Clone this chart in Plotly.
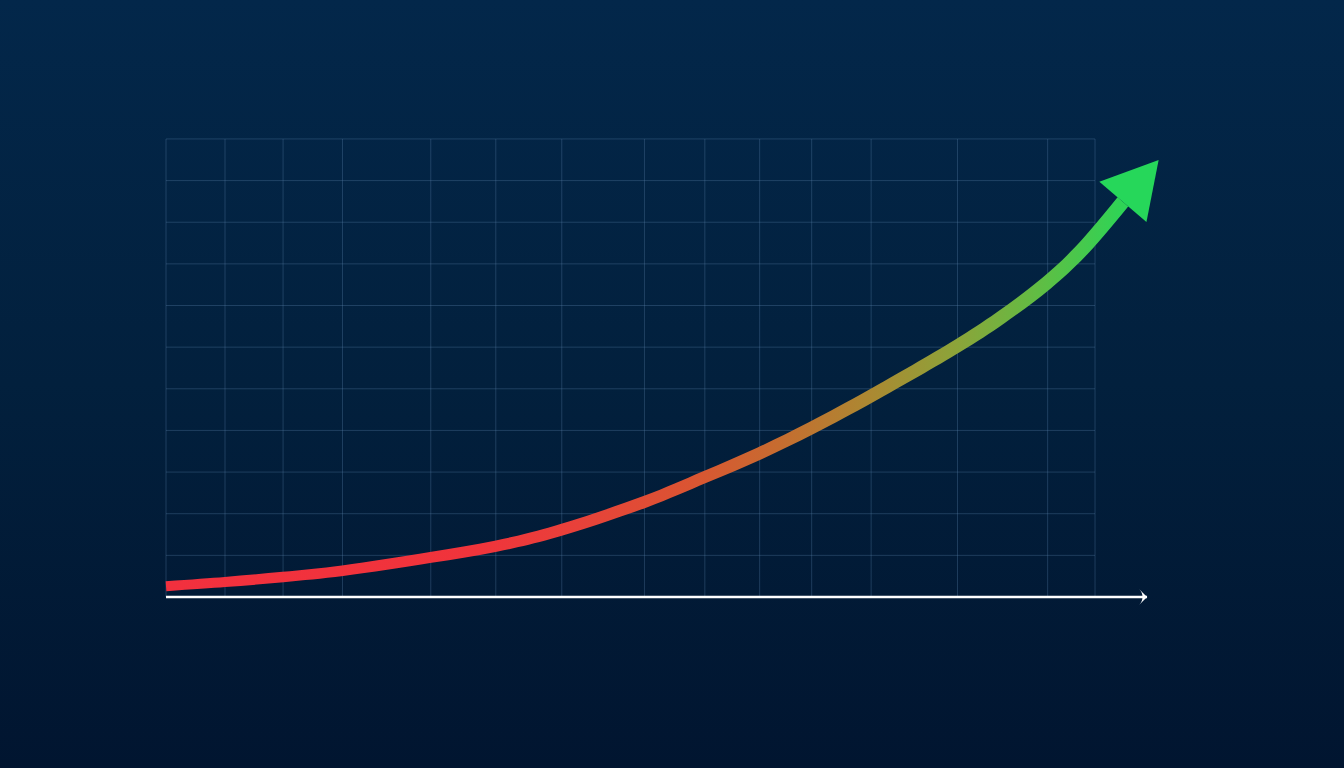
import math
import plotly.graph_objects as go

# ---------------- data ----------------
# grid line positions (x in "time" units, y in value units)
grid_x = [0, 6.35, 12.6, 19.0, 28.5, 35.5, 42.6, 51.5, 58.0, 63.9, 69.5, 75.9, 85.2, 94.9, 100]
grid_y = [10, 20, 30, 40, 50, 60, 70, 80, 90, 100, 110]

# growth curve
curve_x = [0, 6.35, 12.6, 19.0, 28.5, 35.5, 41.3, 51.6, 58.0, 63.9, 69.5, 75.9, 85.2, 89.8, 94.8, 98.4, 103.0]
curve_y = [2.6, 3.6, 4.8, 6.3, 9.5, 12.2, 15.3, 22.9, 28.8, 34.5, 40.6, 48.3, 60.3, 67.0, 75.4, 82.9, 94.9]

axis_end_x = 105.6

# ---------------- layout / style ----------------
W, H = 1344, 768
X_RANGE = [-17.87, 126.8]
Y_RANGE = [-41.07, 143.37]
SX = W / (X_RANGE[1] - X_RANGE[0])   # px per x unit
SY = H / (Y_RANGE[1] - Y_RANGE[0])   # px per y unit

GRID_COLOR = "rgba(90,130,170,0.33)"
BG_SCALE = [[0, "#011530"], [0.5, "#02203d"], [1, "#03274a"]]
CURVE_SCALE = [
    [0.0, "#f2303e"], [0.33, "#f0343b"], [0.43, "#e8413a"], [0.55, "#da5532"],
    [0.64, "#c66c30"], [0.74, "#aa8a32"], [0.83, "#8aa53a"], [0.92, "#5cbf45"],
    [1.0, "#2ed456"],
]
HEAD_COLOR = "#26d75a"
HW_START, HW_END = 5.0, 7.0          # band half width in px
HEAD_LEN, HEAD_HALF = 55, 31         # arrow head size in px

fig = go.Figure()

# background gradient
fig.add_trace(go.Scatter(
    x=[X_RANGE[0], X_RANGE[1], X_RANGE[1], X_RANGE[0], X_RANGE[0]],
    y=[Y_RANGE[0], Y_RANGE[0], Y_RANGE[1], Y_RANGE[1], Y_RANGE[0]],
    mode="none", fill="toself",
    fillgradient=dict(type="vertical", colorscale=BG_SCALE, start=Y_RANGE[0], stop=Y_RANGE[1]),
    hoverinfo="skip", showlegend=False,
))

# grid
gx, gy = [], []
for x in grid_x:
    gx += [x, x, None]
    gy += [0, grid_y[-1], None]
for y in grid_y:
    gx += [grid_x[0], grid_x[-1], None]
    gy += [y, y, None]
fig.add_trace(go.Scatter(x=gx, y=gy, mode="lines", line=dict(color=GRID_COLOR, width=1),
                         hoverinfo="skip", showlegend=False))

# x axis with arrow
fig.add_trace(go.Scatter(x=[0, axis_end_x], y=[0, 0], mode="lines",
                         line=dict(color="white", width=2.5), hoverinfo="skip", showlegend=False))
fig.add_trace(go.Scatter(x=[axis_end_x], y=[0], mode="markers",
                         marker=dict(symbol="arrow-wide", angle=90, size=11, color="white"),
                         cliponaxis=False, hoverinfo="skip", showlegend=False))

# gradient band for the curve (edges offset along pixel-space normals)
n = len(curve_x)
px = [x * SX for x in curve_x]
py = [y * SY for y in curve_y]
upper_x, upper_y, lower_x, lower_y = [], [], [], []
normals = []
for i in range(n):
    a = max(i - 1, 0)
    b = min(i + 1, n - 1)
    dx, dy = px[b] - px[a], py[b] - py[a]
    L = math.hypot(dx, dy)
    tx, ty = dx / L, dy / L
    nx, ny = -ty, tx
    normals.append((tx, ty, nx, ny))
    hw = HW_START + (HW_END - HW_START) * i / (n - 1)
    upper_x.append(curve_x[i] + nx * hw / SX)
    upper_y.append(curve_y[i] + ny * hw / SY)
    lower_x.append(curve_x[i] - nx * hw / SX)
    lower_y.append(curve_y[i] - ny * hw / SY)

fig.add_trace(go.Scatter(
    x=lower_x, y=lower_y, mode="lines",
    line=dict(shape="spline", smoothing=1.0, width=0, color="rgba(0,0,0,0)"),
    hoverinfo="skip", showlegend=False,
))
fig.add_trace(go.Scatter(
    x=upper_x, y=upper_y, mode="lines", fill="tonexty",
    line=dict(shape="spline", smoothing=1.0, width=0, color="rgba(0,0,0,0)"),
    fillgradient=dict(type="horizontal", colorscale=CURVE_SCALE, start=curve_x[0], stop=curve_x[-1]),
    hoverinfo="skip", showlegend=False,
))

# arrow head
tx, ty, nx, ny = normals[-1]
bx, by = curve_x[-1], curve_y[-1]
head_x = [bx + tx * HEAD_LEN / SX, bx + nx * HEAD_HALF / SX, bx - nx * HEAD_HALF / SX, bx + tx * HEAD_LEN / SX]
head_y = [by + ty * HEAD_LEN / SY, by + ny * HEAD_HALF / SY, by - ny * HEAD_HALF / SY, by + ty * HEAD_LEN / SY]
fig.add_trace(go.Scatter(x=head_x, y=head_y, mode="none", fill="toself", fillcolor=HEAD_COLOR,
                         hoverinfo="skip", showlegend=False))

fig.update_layout(
    width=W, height=H,
    margin=dict(l=0, r=0, t=0, b=0),
    paper_bgcolor="#02203c", plot_bgcolor="#02203c",
    xaxis=dict(range=X_RANGE, visible=False, fixedrange=True),
    yaxis=dict(range=Y_RANGE, visible=False, fixedrange=True),
    showlegend=False,
)

fig.write_html(
    "out.html",
    config={"displayModeBar": False},
    post_script="document.body.style.margin='0';document.body.style.overflow='hidden';document.body.style.background='#02203c';",
)
